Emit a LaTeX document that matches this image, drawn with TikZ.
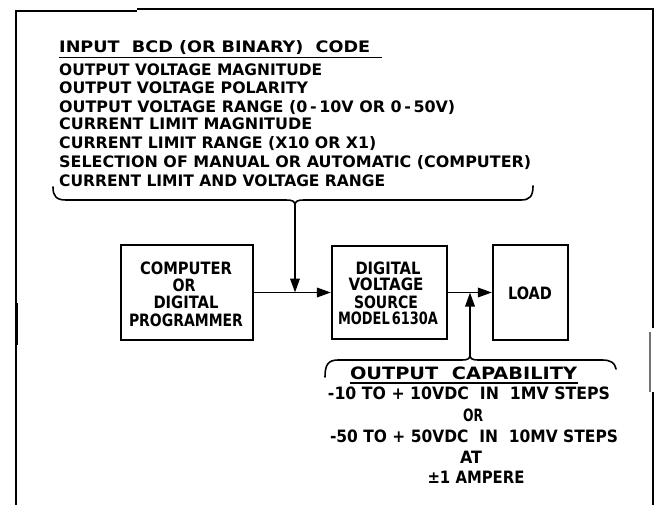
\documentclass[tikz,border=0pt]{standalone}
\usepackage{fontspec}
\setmainfont{DejaVu Sans}
\usetikzlibrary{arrows.meta}
\newcommand{\fw}[2]{\resizebox{#1pt}{\height}{#2}}
\begin{document}
\begin{tikzpicture}[x=1pt,y=-1pt,
  frame/.style={line width=1.4pt},
  box/.style={draw, line width=2.2pt, inner sep=0pt},
  conn/.style={line width=1.9pt},
  arr/.style={conn,-{Triangle[length=14pt,width=9.5pt]}},
  brace/.style={line width=1.6pt, line cap=round, line join=round},
  txt/.style={inner sep=0pt, font=\bfseries\fontsize{15.8}{18}\selectfont},
  btxt/.style={inner sep=0pt, font=\bfseries\fontsize{17}{20}\selectfont}]
\useasboundingbox (0,0) rectangle (660,505);
% frame
\draw[frame] (16,505) -- (16,11) -- (137,11);
\draw[frame] (137,9) -- (653,9) -- (653,328);
\draw[line width=2.6pt] (16.5,303) -- (16.5,345);
\draw[line width=2.4pt, black!55] (650,332) -- (650,392);
\draw[frame] (653,392) -- (653,505);
% input code list
\node[txt, anchor=base west] (t0) at (59,53) {\fw{311}{INPUT\ \ BCD (OR BINARY)\ \ CODE}};
\draw[line width=1.5pt] (59,57.5) -- (382,57.5);
\node[txt, anchor=base west] (t1) at (59,75.5) {\fw{263}{OUTPUT VOLTAGE MAGNITUDE}};
\node[txt, anchor=base west] (t2) at (59,93.5) {\fw{249}{OUTPUT VOLTAGE POLARITY}};
\node[txt, anchor=base west] (t3) at (59,112.5) {\fw{396}{OUTPUT VOLTAGE RANGE (0\,-\,10V OR 0\,-\,50V)}};
\node[txt, anchor=base west] (t4) at (59,129.5) {\fw{253}{CURRENT LIMIT MAGNITUDE}};
\node[txt, anchor=base west] (t5) at (59,148.5) {\fw{317}{CURRENT LIMIT RANGE (X10 OR X1)}};
\node[txt, anchor=base west] (t6) at (59,167.5) {\fw{472}{SELECTION OF MANUAL OR AUTOMATIC (COMPUTER)}};
\node[txt, anchor=base west] (t7) at (59,186.5) {\fw{326}{CURRENT LIMIT AND VOLTAGE RANGE}};
% brace 1
\coordinate (cusp1) at (295,205);
\draw[brace] (53,187) .. controls (53,196) and (56,200) .. (66,200) -- (286,200)
  .. controls (292,200) and (295,201) .. (cusp1)
  .. controls (295,201) and (298,200) .. (304,200) -- (521,200)
  .. controls (530,200) and (533,196) .. (533,186);
% boxes
\node[box, minimum width=132pt, minimum height=95pt] (comp) at (187,292.5) {};
\node[box, minimum width=115pt, minimum height=93pt] (dvs) at (389.5,292.5) {};
\node[box, minimum width=75pt, minimum height=95pt] (load) at (530.5,292.5) {};
\node[btxt, anchor=base] (c1) at (186,274) {\fw{92}{COMPUTER}};
\node[btxt, anchor=base] (c2) at (184,291) {\fw{23}{OR}};
\node[btxt, anchor=base] (c3) at (186,308) {\fw{65}{DIGITAL}};
\node[btxt, anchor=base] (c4) at (186,326) {\fw{114}{PROGRAMMER}};
\node[btxt, anchor=base] (d1) at (388,274) {\fw{65}{DIGITAL}};
\node[btxt, anchor=base] (d2) at (386,290) {\fw{75}{VOLTAGE}};
\node[btxt, anchor=base] (d3) at (386,308) {\fw{64}{SOURCE}};
\node[btxt, anchor=base] (d4) at (388,324) {\fw{100}{MODEL\,6130A}};
\node[btxt, anchor=base] (l1) at (530,299) {\fw{44}{LOAD}};
% connectors
\draw[arr] (comp.east) -- (dvs.west);
\draw[arr] (dvs.east) -- (load.west);
\draw[arr] (cusp1) -- (cusp1 |- comp.east);
% brace 2
\coordinate (cusp2) at (470,355);
\draw[brace] (325,377) .. controls (325,365) and (328,360) .. (338,360) -- (462,360)
  .. controls (467,360) and (470,359) .. (cusp2)
  .. controls (470,359) and (473,360) .. (478,360) -- (602,360)
  .. controls (611,360) and (615,363) .. (616,369);
\draw[arr] (cusp2) -- (cusp2 |- dvs.east);
% output capability
\node[btxt, anchor=base] (o0) at (463.5,379) {\fw{227}{OUTPUT\ \ CAPABILITY}};
\draw[line width=1.5pt] (350,383) -- (578,383);
\node[btxt, anchor=base] (o1) at (469,399) {\fw{282}{-10 TO + 10VDC\ \ IN\ \ 1MV STEPS}};
\node[btxt, anchor=base] (o2) at (473,421) {\fw{20}{OR}};
\node[btxt, anchor=base] (o3) at (474,442) {\fw{288}{-50 TO + 50VDC\ \ IN\ \ 10MV STEPS}};
\node[btxt, anchor=base] (o4) at (471,463) {\fw{22}{AT}};
\node[btxt, anchor=base] (o5) at (476,483) {\fw{97}{±1 AMPERE}};
\end{tikzpicture}
\end{document}
